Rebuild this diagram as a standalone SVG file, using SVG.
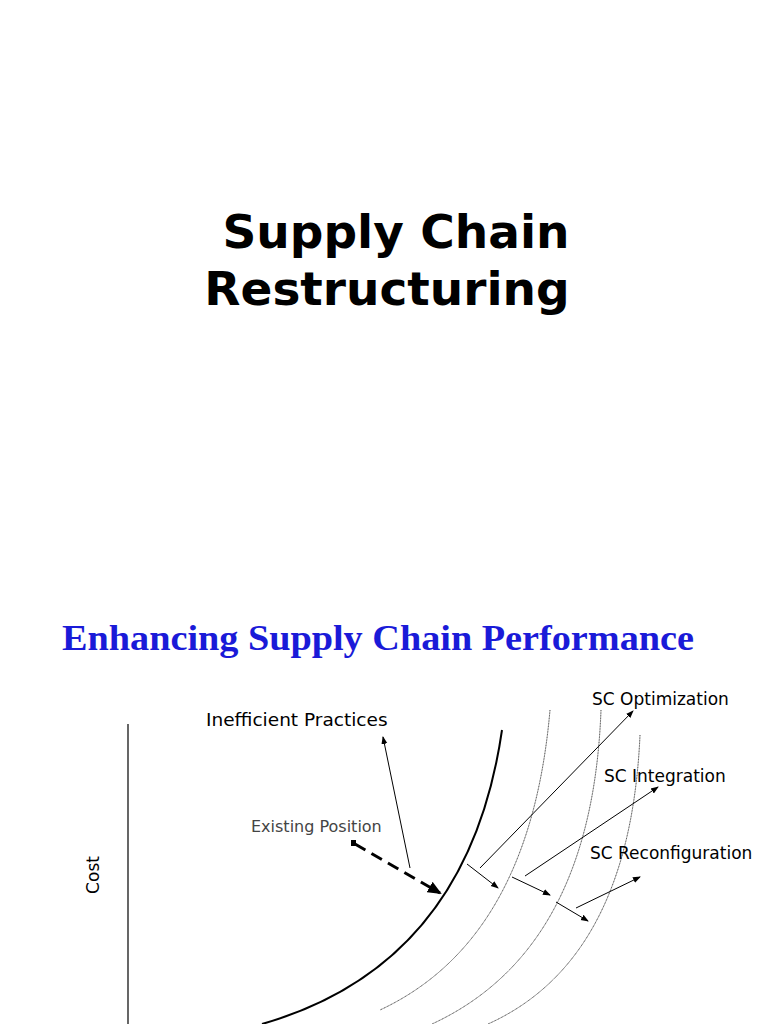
<svg xmlns="http://www.w3.org/2000/svg" width="768" height="1024" viewBox="0 0 768 1024">
<style>
.t{font-family:"DejaVu Sans",sans-serif;fill:#000}
.c{fill:none;stroke:#000}
.th{stroke:#000;stroke-width:1;fill:none}
</style>
<defs>
<marker id="a" markerWidth="8" markerHeight="8" refX="7" refY="4" orient="auto" markerUnits="userSpaceOnUse"><path d="M0,1 L8,4 L0,7z" fill="#000"/></marker>
<marker id="b" markerWidth="14" markerHeight="12" refX="12" refY="6" orient="auto" markerUnits="userSpaceOnUse"><path d="M0,0 L14,6 L0,12z" fill="#000"/></marker>
</defs>
<rect width="768" height="1024" fill="#fff"/>
<g id="title">
<text class="t" x="396" y="248" font-size="47" font-weight="bold" text-anchor="middle">Supply Chain</text>
<text class="t" x="387" y="305" font-size="47" font-weight="bold" text-anchor="middle">Restructuring</text>
</g>
<text x="378" y="650" font-family="Liberation Serif,serif" font-size="36" font-weight="bold" fill="#1a1ad8" text-anchor="middle" textLength="632" lengthAdjust="spacingAndGlyphs">Enhancing Supply Chain Performance</text>
<g id="axis"><line x1="128" y1="724" x2="128" y2="1024" stroke="#000" stroke-width="1.2"/>
<text class="t" font-size="17" transform="translate(99,875) rotate(-90)" text-anchor="middle">Cost</text></g>
<g id="curves">
<path class="c" stroke-width="2" d="M502,730 Q468,965 262,1024"/>
<path class="c" stroke-width="0.8" stroke-dasharray="1,0.6" d="M550,710 Q530,940 380,1010"/>
<path class="c" stroke-width="0.8" stroke-dasharray="1,0.6" d="M601,710 Q592,950 432,1024"/>
<path class="c" stroke-width="0.8" stroke-dasharray="1,0.6" d="M640,735 Q630,960 488,1024"/>
</g>
<g id="labels">
<text class="t" x="206" y="726" font-size="18.5">Inefficient Practices</text>
<text x="251" y="832" font-family="DejaVu Sans,sans-serif" font-size="16" fill="#444">Existing Position</text>
<text class="t" x="592" y="705" font-size="17">SC Optimization</text>
<text class="t" x="604" y="782" font-size="17">SC Integration</text>
<text class="t" x="590" y="859" font-size="17">SC Reconfiguration</text>
</g>
<g id="connectors">
<line class="th" x1="410" y1="868" x2="383" y2="737" marker-end="url(#a)"/>
<rect x="351" y="840" width="5" height="6" fill="#000"/>
<line x1="355" y1="844" x2="440" y2="893" stroke="#000" stroke-width="3" stroke-dasharray="12,7" marker-end="url(#b)"/>
<line class="th" x1="480" y1="868" x2="633" y2="711" marker-end="url(#a)"/>
<line class="th" x1="525" y1="876" x2="658" y2="787" marker-end="url(#a)"/>
<line class="th" x1="576" y1="908" x2="640" y2="877" marker-end="url(#a)"/>
<line class="th" x1="467" y1="864" x2="498" y2="888" marker-end="url(#a)"/>
<line class="th" x1="512" y1="877" x2="550" y2="895" marker-end="url(#a)"/>
<line class="th" x1="556" y1="902" x2="588" y2="921" marker-end="url(#a)"/>
</g>
</svg>
